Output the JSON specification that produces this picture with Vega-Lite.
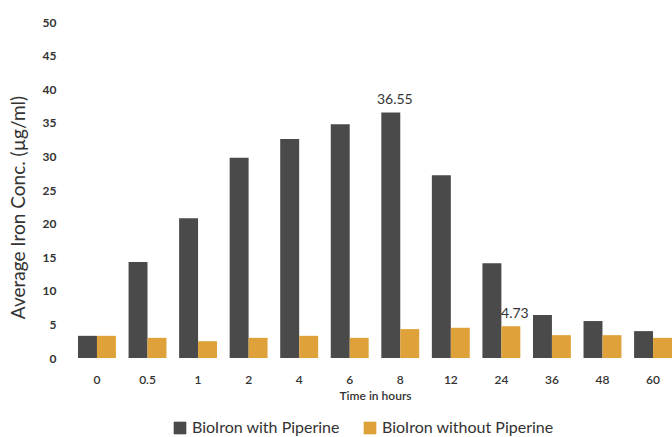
{
  "$schema": "https://vega.github.io/schema/vega-lite/v6.json",
  "width": 594,
  "height": 336,
  "autosize": {"type": "none"},
  "padding": {"left": 78, "top": 22, "right": 0, "bottom": 79},
  "background": "white",
  "config": {
    "view": {"stroke": null},
    "font": "Lato",
    "axis": {"grid": false, "domain": false, "ticks": false, "labelColor": "#333", "titleColor": "#333"}
  },
  "data": {
    "values": [
      {"time": "0", "series": "BioIron with Piperine", "conc": 3.3},
      {"time": "0", "series": "BioIron without Piperine", "conc": 3.3},
      {"time": "0.5", "series": "BioIron with Piperine", "conc": 14.3},
      {"time": "0.5", "series": "BioIron without Piperine", "conc": 3.0},
      {"time": "1", "series": "BioIron with Piperine", "conc": 20.8},
      {"time": "1", "series": "BioIron without Piperine", "conc": 2.5},
      {"time": "2", "series": "BioIron with Piperine", "conc": 29.8},
      {"time": "2", "series": "BioIron without Piperine", "conc": 3.0},
      {"time": "4", "series": "BioIron with Piperine", "conc": 32.6},
      {"time": "4", "series": "BioIron without Piperine", "conc": 3.3},
      {"time": "6", "series": "BioIron with Piperine", "conc": 34.8},
      {"time": "6", "series": "BioIron without Piperine", "conc": 3.0},
      {"time": "8", "series": "BioIron with Piperine", "conc": 36.55, "label": "36.55"},
      {"time": "8", "series": "BioIron without Piperine", "conc": 4.3},
      {"time": "12", "series": "BioIron with Piperine", "conc": 27.2},
      {"time": "12", "series": "BioIron without Piperine", "conc": 4.5},
      {"time": "24", "series": "BioIron with Piperine", "conc": 14.1},
      {"time": "24", "series": "BioIron without Piperine", "conc": 4.73, "label": "4.73"},
      {"time": "36", "series": "BioIron with Piperine", "conc": 6.4},
      {"time": "36", "series": "BioIron without Piperine", "conc": 3.4},
      {"time": "48", "series": "BioIron with Piperine", "conc": 5.5},
      {"time": "48", "series": "BioIron without Piperine", "conc": 3.4},
      {"time": "60", "series": "BioIron with Piperine", "conc": 4.0},
      {"time": "60", "series": "BioIron without Piperine", "conc": 3.0}
    ]
  },
  "encoding": {
    "x": {
      "field": "time", "type": "nominal", "sort": null,
      "scale": {"paddingInner": 0.25, "paddingOuter": 0},
      "axis": {"labelAngle": 0, "labelFontSize": 12, "labelFontWeight": 600, "labelPadding": 16, "title": "Time in hours", "titleFontSize": 12, "titleFontWeight": 600, "titlePadding": 5}
    },
    "xOffset": {"field": "series", "type": "nominal", "scale": {"paddingInner": 0}},
    "y": {
      "field": "conc", "type": "quantitative",
      "scale": {"domain": [0, 50]},
      "axis": {"values": [0,5,10,15,20,25,30,35,40,45,50], "labelFontSize": 12, "labelFontWeight": 700, "labelPadding": 22, "title": "Average Iron Conc. (µg/ml)", "titleFontSize": 19, "titleFontWeight": "normal", "titlePadding": 14, "titleY": 185}
    }
  },
  "layer": [
    {
      "mark": {"type": "bar"},
      "encoding": {
        "color": {
          "field": "series", "type": "nominal",
          "scale": {"range": ["#4a4a4a", "#dfa23a"]},
          "legend": {"title": null, "orient": "none", "direction": "horizontal", "legendX": 94, "legendY": 398, "symbolType": "square", "symbolSize": 160, "labelFontSize": 16, "labelLimit": 400, "labelColor": "#333", "columnPadding": 22, "symbolOpacity": 1}
        }
      }
    },
    {
      "transform": [{"filter": "datum.label != null"}],
      "mark": {"type": "text", "baseline": "bottom", "dy": -5, "dx": 4, "fontSize": 14, "color": "#333"},
      "encoding": {"text": {"field": "label"}}
    }
  ]
}
